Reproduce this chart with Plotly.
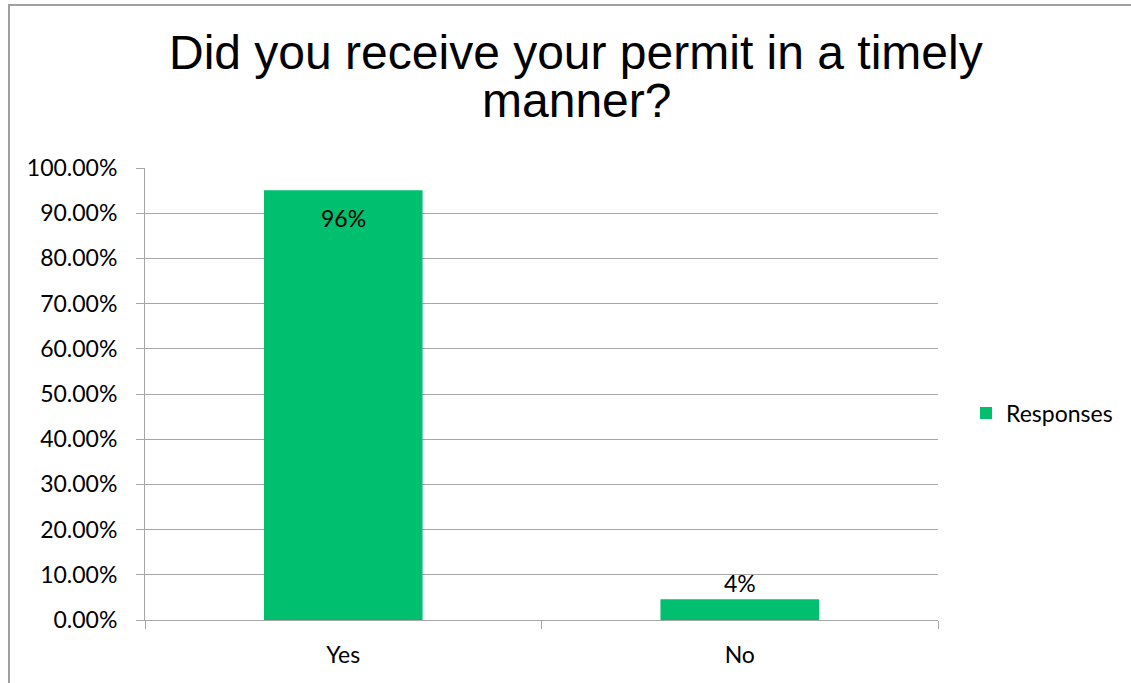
import plotly.graph_objects as go

categories = ["Yes", "No"]
values = [0.951, 0.046]
labels = ["96%", "4%"]
series_name = "Responses"
title_lines = ["Did you receive your permit in a timely", "manner?"]
y_ticks = [0, 0.1, 0.2, 0.3, 0.4, 0.5, 0.6, 0.7, 0.8, 0.9, 1.0]

OFF = 0  # body margin removed below
W, H = 1131, 683
PL, PR, PT, PB = 145, 938, 168, 620  # plot area on screen
L = PL - OFF
T = PT - OFF
PW = PR - PL
PH = PB - PT
R = W - L - PW
B = H - T - PH

def py(px):
    return (PB - px) / PH

def px_x(px):
    return (px - PL) / PW

FONT = "Lato, Carlito, Calibri, sans-serif"
GREEN = "#00BF6F"
GRID = "#A6A6A6"
FS = 23

fig = go.Figure()
fig.add_trace(go.Bar(
    x=categories, y=values, name=series_name,
    marker=dict(color=GREEN, line=dict(width=0)),
    textposition="none",
    showlegend=True,
))

# data labels, placed through the data axes
shifts = [-28, 16]
for c, v, lab, s in zip(categories, values, labels, shifts):
    fig.add_annotation(x=c, y=v, xref="x", yref="y", text=lab, showarrow=False,
                       yshift=s, xanchor="center", yanchor="middle",
                       font=dict(family=FONT, size=FS, color="#000000"))

for i, line in enumerate(title_lines):
    fig.add_annotation(
        text=line, xref="paper", yref="paper",
        x=px_x(576), y=py([52, 100][i]), xanchor="center", yanchor="middle",
        showarrow=False,
        font=dict(family="Liberation Sans, Arial, sans-serif", size=48, color="#000000"),
    )

# outer chart border (left and top edges only visible)
fig.add_shape(type="rect", xref="paper", yref="paper",
              x0=px_x(9), x1=px_x(1250), y0=py(760), y1=py(5),
              line=dict(color="#A0A0A0", width=2), fillcolor="rgba(0,0,0,0)", layer="below")

fig.update_layout(
    width=W, height=H,
    margin=dict(l=L, r=R, t=T, b=B, pad=0),
    paper_bgcolor="white", plot_bgcolor="white",
    bargap=0.6,
    font=dict(family=FONT, size=FS, color="#000000"),
    legend=dict(x=px_x(966), y=py(413), xanchor="left", yanchor="middle",
                font=dict(family=FONT, size=FS, color="#000000"),
                bgcolor="rgba(0,0,0,0)"),
)
fig.update_yaxes(
    range=[0, 1], tickvals=y_ticks, tickformat=".2%",
    showgrid=True, gridcolor=GRID, gridwidth=1,
    showline=True, linecolor=GRID, linewidth=1,
    ticks="outside", ticklen=8, tickcolor=GRID,
    ticklabelstandoff=14, zeroline=False,
    tickfont=dict(family=FONT, size=FS, color="#000000"),
)
fig.update_xaxes(
    showline=True, linecolor=GRID, linewidth=1,
    ticks="outside", ticklen=8, tickcolor=GRID, tickson="boundaries",
    ticklabelstandoff=14,
    tickfont=dict(family=FONT, size=FS, color="#000000"),
)

fig.write_html("out.html", config={"displayModeBar": False},
               post_script="document.body.style.margin='0';document.body.style.overflow='hidden';")
